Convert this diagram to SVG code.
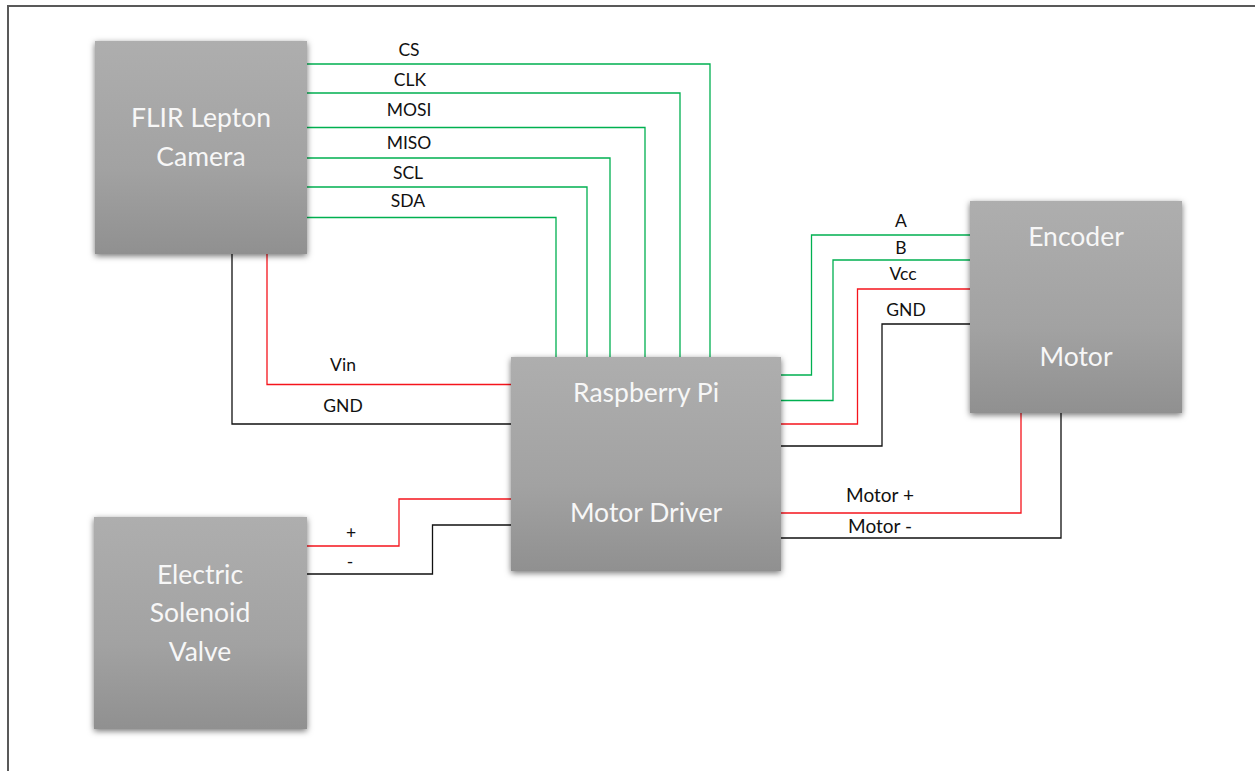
<svg xmlns="http://www.w3.org/2000/svg" width="1255" height="771" viewBox="0 0 1255 771">
<style>
.w{fill:none;stroke-width:1.3}
.g{stroke:#00b050}.r{stroke:#f5141c}.k{stroke:#111}
text{font-family:Lato,"Noto Sans","Liberation Sans",sans-serif;text-anchor:middle}
.l{font-size:17.5px;fill:#111}
.m{font-size:19px;fill:#111}
.n{font-size:26.500px;fill:#f7f7f7}
.b{fill:url(#grad);filter:url(#sh)}
</style>
<defs>
<linearGradient id="grad" x1="0" y1="0" x2="0" y2="1"><stop offset="0" stop-color="#aeaeae"/><stop offset="0.6" stop-color="#a2a2a2"/><stop offset="1" stop-color="#909090"/></linearGradient>
<filter id="sh" x="-10%" y="-10%" width="120%" height="120%"><feDropShadow dx="0" dy="2" stdDeviation="3" flood-color="#000" flood-opacity="0.55"/></filter>
</defs>
<rect width="1255" height="771" fill="#fff"/>
<path d="M8 771V6H1255" fill="none" stroke="#595959" stroke-width="2"/>
<g id="connectors">
<path class="w g" d="M306 64H710V357"/>
<path class="w g" d="M306 93H680V357"/>
<path class="w g" d="M306 127.500H645V357"/>
<path class="w g" d="M306 158H610V357"/>
<path class="w g" d="M306 187H587V357"/>
<path class="w g" d="M306 217.500H556V357"/>
<path class="w r" d="M267 254V384.500H511"/>
<path class="w k" d="M232 254V424H511"/>
<path class="w r" d="M307 546H399V499H511"/>
<path class="w k" d="M307 574H432.500V525H511"/>
<path class="w g" d="M780 375H811.500V235H971"/>
<path class="w g" d="M780 400.500H833V260H971"/>
<path class="w r" d="M780 424H857.500V289H971"/>
<path class="w k" d="M780 446H882V324H971"/>
<path class="w r" d="M780 513H1021V413"/>
<path class="w k" d="M780 538H1061V413"/>
</g>
<g id="labels">
<text class="l" x="409" y="55.500">CS</text>
<text class="l" x="410" y="85.500">CLK</text>
<text class="l" x="409" y="116">MOSI</text>
<text class="l" x="409" y="149">MISO</text>
<text class="l" x="408" y="179">SCL</text>
<text class="l" x="408" y="207">SDA</text>
<text class="l" x="343" y="370.500">Vin</text>
<text class="l" x="343" y="412">GND</text>
<text class="l" x="351" y="538.500">+</text>
<text class="l" x="350" y="567.500">-</text>
<text class="l" x="901" y="227">A</text>
<text class="l" x="901" y="254">B</text>
<text class="l" x="903" y="280">Vcc</text>
<text class="l" x="906" y="315.500">GND</text>
<text class="m" x="880" y="501.500">Motor +</text>
<text class="m" x="880" y="532.500">Motor -</text>
</g>
<g id="flir"><rect class="b" x="95" y="41" width="212" height="213"/><text class="n" x="201" y="126.500">FLIR Lepton</text><text class="n" x="201" y="165.500">Camera</text></g>
<g id="valve"><rect class="b" x="94" y="517" width="213" height="212"/><text class="n" x="200" y="583.500">Electric</text><text class="n" x="200" y="621.500">Solenoid</text><text class="n" x="200" y="660.500">Valve</text></g>
<g id="pi"><rect class="b" x="511" y="357" width="270" height="214"/><text class="n" x="646" y="401.500">Raspberry Pi</text><text class="n" x="646" y="521.500">Motor Driver</text></g>
<g id="encoder"><rect class="b" x="970" y="201" width="212" height="212"/><text class="n" x="1076" y="245.500">Encoder</text><text class="n" x="1076" y="365.500">Motor</text></g>
</svg>
